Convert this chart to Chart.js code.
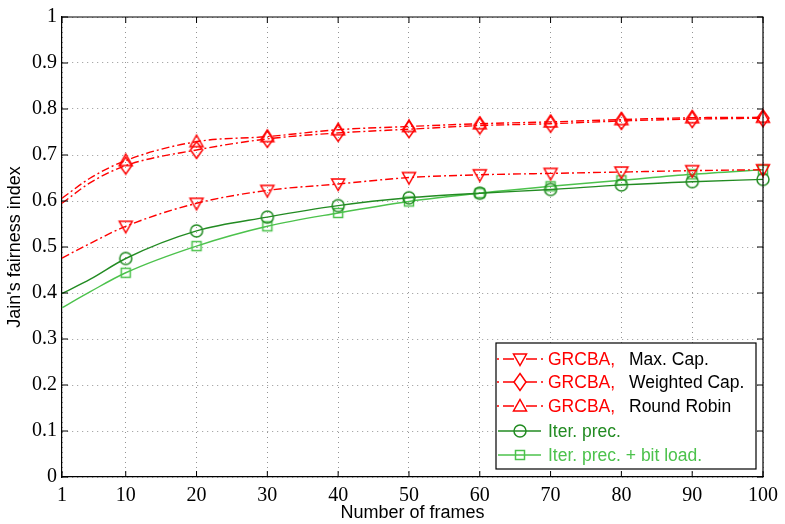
<!DOCTYPE html>
<html>
<head>
<meta charset="utf-8">
<script src="https://cdn.jsdelivr.net/npm/chart.js@4/dist/chart.umd.min.js"></script>
<style>
  html, body { margin: 0; padding: 0; background: #fff; }
  #wrap { width: 785px; height: 524px; position: relative; }
</style>
</head>
<body>
<div id="wrap"><canvas id="fairnessChart"></canvas></div>
<script>
const frames = [1, 5, 10, 20, 30, 40, 50, 60, 70, 80, 90, 100];
const xTicks = [1, 10, 20, 30, 40, 50, 60, 70, 80, 90, 100];
const yTicks = [0, 0.1, 0.2, 0.3, 0.4, 0.5, 0.6, 0.7, 0.8, 0.9, 1];

const maxCap = [0.476, 0.508, 0.545, 0.595, 0.623, 0.637, 0.651, 0.657, 0.660, 0.663, 0.666, 0.668];
const weightedCap = [0.595, 0.640, 0.677, 0.711, 0.735, 0.748, 0.756, 0.764, 0.768, 0.774, 0.778, 0.780];
const roundRobin = [0.606, 0.650, 0.688, 0.729, 0.740, 0.755, 0.762, 0.768, 0.772, 0.777, 0.781, 0.782];
const iterPrec = [0.399, 0.430, 0.475, 0.535, 0.565, 0.590, 0.607, 0.617, 0.625, 0.635, 0.642, 0.647];
const iterPrecBitLoad = [0.368, 0.403, 0.444, 0.502, 0.545, 0.574, 0.599, 0.617, 0.632, 0.645, 0.658, 0.668];

const seriesPrefix = ['GRCBA,', 'GRCBA,', 'GRCBA,', '', ''];
const seriesNames = ['Max. Cap.', 'Weighted Cap.', 'Round Robin', 'Iter. prec.', 'Iter. prec. + bit load.'];

const RED = '#ff0000';
const DARK_GREEN = '#228b22';
const LIGHT_GREEN = '#4cc24c';
const DASH_DOT = [8, 3, 2, 3];
const SANS = '"Liberation Sans", Arial, sans-serif';
const SERIF = '"Liberation Serif", "Times New Roman", serif';

function makeMarker(kind, color) {
  const c = document.createElement('canvas');
  c.width = 18;
  c.height = 20;
  const g = c.getContext('2d');
  const cx = 9, cy = 10;
  g.strokeStyle = color;
  g.lineWidth = 1.5;
  g.beginPath();
  if (kind === 'triDown') {
    g.moveTo(cx - 6.5, cy - 5); g.lineTo(cx + 6.5, cy - 5); g.lineTo(cx, cy + 6.5); g.closePath();
  } else if (kind === 'triUp') {
    g.moveTo(cx - 6.5, cy + 5); g.lineTo(cx + 6.5, cy + 5); g.lineTo(cx, cy - 6.5); g.closePath();
  } else if (kind === 'diamond') {
    g.moveTo(cx, cy - 8.5); g.lineTo(cx + 6, cy); g.lineTo(cx, cy + 8.5); g.lineTo(cx - 6, cy); g.closePath();
  } else if (kind === 'circle') {
    g.arc(cx, cy, 6, 0, Math.PI * 2);
  } else {
    g.rect(cx - 4.5, cy - 4.5, 9, 9);
  }
  g.stroke();
  return c;
}

const markers = [
  makeMarker('triDown', RED),
  makeMarker('diamond', RED),
  makeMarker('triUp', RED),
  makeMarker('circle', DARK_GREEN),
  makeMarker('square', LIGHT_GREEN)
];
const colors = [RED, RED, RED, DARK_GREEN, LIGHT_GREEN];
const dashes = [DASH_DOT, DASH_DOT, DASH_DOT, [], []];
const values = [maxCap, weightedCap, roundRobin, iterPrec, iterPrecBitLoad];
const radii = frames.map(f => (f % 10 === 0 ? 6 : 0));

const datasets = values.map((vals, i) => ({
  label: seriesNames[i],
  data: frames.map((f, j) => ({ x: f, y: vals[j] })),
  borderColor: colors[i],
  borderWidth: 1.4,
  borderDash: dashes[i],
  pointStyle: markers[i],
  pointRadius: radii,
  cubicInterpolationMode: 'monotone',
  fill: false,
  clip: false
}));

const framePlugin = {
  id: 'frame',
  afterDraw(chart) {
    const { ctx, chartArea: a, scales: { x, y } } = chart;
    ctx.save();
    ctx.strokeStyle = '#000';
    ctx.lineWidth = 1.2;
    ctx.beginPath();
    ctx.moveTo(a.left, a.top); ctx.lineTo(a.right, a.top); ctx.lineTo(a.right, a.bottom);
    ctx.stroke();

    ctx.lineWidth = 1;
    ctx.beginPath();
    xTicks.forEach(v => {
      const px = x.getPixelForValue(v);
      ctx.moveTo(px, a.bottom); ctx.lineTo(px, a.bottom - 6);
      ctx.moveTo(px, a.top); ctx.lineTo(px, a.top + 6);
    });
    yTicks.forEach(v => {
      const py = y.getPixelForValue(v);
      ctx.moveTo(a.left, py); ctx.lineTo(a.left + 6, py);
      ctx.moveTo(a.right, py); ctx.lineTo(a.right - 6, py);
    });
    ctx.stroke();

    // legend box
    const box = { left: 496, top: 343, right: 756, bottom: 469 };
    ctx.fillStyle = '#fff';
    ctx.fillRect(box.left, box.top, box.right - box.left, box.bottom - box.top);
    ctx.strokeStyle = '#000';
    ctx.lineWidth = 1.2;
    ctx.strokeRect(box.left, box.top, box.right - box.left, box.bottom - box.top);

    const rows = [359, 382, 406, 431, 455];
    ctx.textAlign = 'left';
    ctx.textBaseline = 'middle';
    ctx.font = '17.5px ' + SANS;
    rows.forEach((ry, i) => {
      ctx.strokeStyle = colors[i];
      ctx.lineWidth = 1.4;
      ctx.beginPath();
      if (dashes[i].length) {
        ctx.moveTo(497, ry); ctx.lineTo(499, ry);
        ctx.moveTo(503, ry); ctx.lineTo(514, ry);
        ctx.moveTo(526, ry); ctx.lineTo(537, ry);
        ctx.moveTo(541, ry); ctx.lineTo(543, ry);
      } else {
        ctx.moveTo(498, ry); ctx.lineTo(541, ry);
      }
      ctx.stroke();
      const m = markers[i];
      ctx.drawImage(m, 520 - m.width / 2, ry - m.height / 2);

      ctx.fillStyle = colors[i];
      if (seriesPrefix[i]) {
        ctx.fillText(seriesPrefix[i], 548, ry + 1);
        ctx.fillStyle = '#000';
        ctx.fillText(seriesNames[i], 629, ry + 1);
      } else {
        ctx.fillText(seriesNames[i], 548, ry + 1);
      }
    });
    ctx.restore();
  }
};

new Chart(document.getElementById('fairnessChart'), {
  type: 'line',
  data: { datasets },
  options: {
    responsive: true,
    maintainAspectRatio: false,
    animation: false,
    layout: { padding: { top: 11, right: 21, bottom: 0, left: 0 } },
    plugins: {
      legend: { display: false },
      tooltip: { enabled: false }
    },
    scales: {
      x: {
        type: 'linear',
        min: 1,
        max: 100,
        afterBuildTicks(scale) {
          scale.ticks = xTicks.map(v => ({ value: v }));
        },
        afterFit(scale) {
          scale.height = 47;
        },
        grid: { color: 'rgba(0,0,0,0.42)', lineWidth: 1, drawTicks: false },
        border: { color: '#000', width: 1.2, dash: [1, 4] },
        title: {
          display: true,
          text: 'Number of frames',
          color: '#000',
          padding: { top: 0, bottom: 0 },
          font: { family: SANS, size: 18 }
        },
        ticks: {
          color: '#000',
          padding: 7,
          maxRotation: 0,
          autoSkip: false,
          font: { family: SERIF, size: 20 },
          callback: v => String(v)
        }
      },
      y: {
        min: 0,
        max: 1,
        afterBuildTicks(scale) {
          scale.ticks = yTicks.map(v => ({ value: v }));
        },
        afterFit(scale) {
          scale.width = 62;
        },
        grid: { color: 'rgba(0,0,0,0.42)', lineWidth: 1, drawTicks: false },
        border: { color: '#000', width: 1.2, dash: [1, 4] },
        title: {
          display: true,
          text: "Jain's fairness index",
          color: '#000',
          padding: { top: 4, bottom: 0 },
          font: { family: SANS, size: 18 }
        },
        ticks: {
          color: '#000',
          padding: 5,
          font: { family: SERIF, size: 20 },
          callback: v => String(Math.round(v * 10) / 10)
        }
      }
    }
  },
  plugins: [framePlugin]
});
</script>
</body>
</html>
